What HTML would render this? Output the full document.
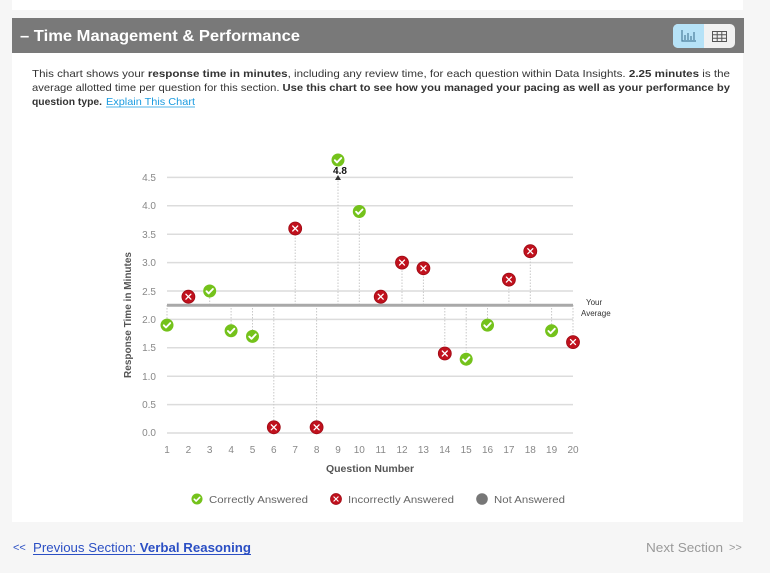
<!DOCTYPE html>
<html>
<head>
<meta charset="utf-8">
<style>
html,body{margin:0;padding:0;background:#f6f6f6;}
body{width:770px;height:573px;overflow:hidden;position:relative;font-family:"Liberation Sans",sans-serif;}
svg{position:absolute;left:0;top:0;}
</style>
</head>
<body>
<svg width="770" height="573" viewBox="0 0 770 573" xmlns="http://www.w3.org/2000/svg" font-family="Liberation Sans, sans-serif">
  <defs>
    <g id="ok">
      <circle r="6.5" fill="#74c21b"/>
      <path d="M-3.2,0.2 L-1,2.4 L3.2,-2" fill="none" stroke="#fff" stroke-width="1.9" stroke-linecap="round" stroke-linejoin="round"/>
    </g>
    <g id="bad">
      <circle r="6.5" fill="#c0111d" stroke="#9e0a14" stroke-width="0.8"/>
      <path d="M-2.5,-2.5 L2.5,2.5 M2.5,-2.5 L-2.5,2.5" stroke="#fff" stroke-width="1.3" stroke-linecap="round"/>
    </g>
  </defs>

  <rect x="12" y="0" width="731" height="10" fill="#fff"/>
  <rect x="12" y="53" width="731" height="469" fill="#fff"/>
  <rect x="12" y="18" width="732" height="35" fill="#797979"/>
  <text x="20" y="41" font-size="16" font-weight="bold" fill="#fff" textLength="280" lengthAdjust="spacingAndGlyphs">– Time Management &amp; Performance</text>

  <rect x="673" y="24" width="62" height="24" rx="5" fill="#f1f1f1"/>
  <path d="M678,24 H704 V48 H678 A5,5 0 0 1 673,43 V29 A5,5 0 0 1 678,24 Z" fill="#b6e2f7"/>
  <g stroke="#4d7f9c" stroke-width="1.2" fill="none">
    <path d="M682,30 V41 H696"/>
    <path d="M685,40 V35 M688,40 V33 M691,40 V36 M694,40 V32"/>
  </g>
  <g stroke="#555" stroke-width="1" fill="none">
    <rect x="712.5" y="31.5" width="14" height="10"/>
    <path d="M712.5,34.8 H726.5 M712.5,38.2 H726.5 M717.2,31.5 V41.5 M721.8,31.5 V41.5"/>
  </g>

  <g font-size="10.5" fill="#333">
    <text x="32" y="77" textLength="698" lengthAdjust="spacingAndGlyphs">This chart shows your <tspan font-weight="bold">response time in minutes</tspan>, including any review time, for each question within Data Insights. <tspan font-weight="bold">2.25 minutes</tspan> is the</text>
    <text x="32" y="91" textLength="698" lengthAdjust="spacingAndGlyphs">average allotted time per question for this section. <tspan font-weight="bold">Use this chart to see how you managed your pacing as well as your performance by</tspan></text>
    <text x="32" y="105" textLength="70" lengthAdjust="spacingAndGlyphs" font-weight="bold">question type.</text>
    <text x="106" y="105" textLength="89" lengthAdjust="spacingAndGlyphs" fill="#1a9be0">Explain This Chart</text>
  </g>
  <line x1="106" y1="107" x2="195" y2="107" stroke="#1a9be0" stroke-width="0.8"/>

  <g stroke="#dcdcdc" stroke-width="1.5">
    <line x1="167" y1="177.4" x2="573" y2="177.4"/>
    <line x1="167" y1="205.8" x2="573" y2="205.8"/>
    <line x1="167" y1="234.2" x2="573" y2="234.2"/>
    <line x1="167" y1="262.6" x2="573" y2="262.6"/>
    <line x1="167" y1="291" x2="573" y2="291"/>
    <line x1="167" y1="319.4" x2="573" y2="319.4"/>
    <line x1="167" y1="347.8" x2="573" y2="347.8"/>
    <line x1="167" y1="376.2" x2="573" y2="376.2"/>
    <line x1="167" y1="404.6" x2="573" y2="404.6"/>
    <line x1="167" y1="433" x2="573" y2="433"/>
  </g>

  <g font-size="10" fill="#888" text-anchor="end">
    <text x="156" y="181">4.5</text>
    <text x="156" y="209">4.0</text>
    <text x="156" y="238">3.5</text>
    <text x="156" y="266">3.0</text>
    <text x="156" y="295">2.5</text>
    <text x="156" y="323">2.0</text>
    <text x="156" y="351">1.5</text>
    <text x="156" y="380">1.0</text>
    <text x="156" y="408">0.5</text>
    <text x="156" y="436">0.0</text>
  </g>
  <text transform="translate(131,315) rotate(-90)" font-size="10" font-weight="bold" fill="#555" text-anchor="middle">Response Time in Minutes</text>

  <g font-size="10" fill="#888" text-anchor="middle">
    <text x="167" y="453">1</text><text x="188.4" y="453">2</text><text x="209.7" y="453">3</text><text x="231.1" y="453">4</text><text x="252.5" y="453">5</text>
    <text x="273.8" y="453">6</text><text x="295.2" y="453">7</text><text x="316.6" y="453">8</text><text x="338" y="453">9</text><text x="359.3" y="453">10</text>
    <text x="380.7" y="453">11</text><text x="402" y="453">12</text><text x="423.4" y="453">13</text><text x="444.8" y="453">14</text><text x="466.2" y="453">15</text>
    <text x="487.5" y="453">16</text><text x="508.9" y="453">17</text><text x="530.3" y="453">18</text><text x="551.6" y="453">19</text><text x="573" y="453">20</text>
  </g>
  <text x="370" y="472" font-size="10.5" font-weight="bold" fill="#555" text-anchor="middle">Question Number</text>

  <g stroke="#c8c8c8" stroke-width="1" stroke-dasharray="1.5 1.5">
    <line x1="167" y1="305" x2="167" y2="325"/>
    <line x1="188.4" y1="305" x2="188.4" y2="297"/>
    <line x1="209.7" y1="305" x2="209.7" y2="291"/>
    <line x1="231.1" y1="305" x2="231.1" y2="331"/>
    <line x1="252.5" y1="305" x2="252.5" y2="336"/>
    <line x1="273.8" y1="305" x2="273.8" y2="427"/>
    <line x1="295.2" y1="305" x2="295.2" y2="228"/>
    <line x1="316.6" y1="305" x2="316.6" y2="427"/>
    <line x1="338" y1="305" x2="338" y2="180"/>
    <line x1="359.3" y1="305" x2="359.3" y2="211"/>
    <line x1="380.7" y1="305" x2="380.7" y2="297"/>
    <line x1="402" y1="305" x2="402" y2="262"/>
    <line x1="423.4" y1="305" x2="423.4" y2="268"/>
    <line x1="444.8" y1="305" x2="444.8" y2="353"/>
    <line x1="466.2" y1="305" x2="466.2" y2="359"/>
    <line x1="487.5" y1="305" x2="487.5" y2="325"/>
    <line x1="508.9" y1="305" x2="508.9" y2="280"/>
    <line x1="530.3" y1="305" x2="530.3" y2="251"/>
    <line x1="551.6" y1="305" x2="551.6" y2="331"/>
    <line x1="573" y1="305" x2="573" y2="342"/>
  </g>

  <line x1="167" y1="305.2" x2="573" y2="305.2" stroke="#a9a9a9" stroke-width="3"/>
  <text x="586" y="305" font-size="8" fill="#333">Your</text>
  <text x="581" y="316" font-size="8" fill="#333">Average</text>

  <polygon points="335,180 341,180 338,175" fill="#333"/>
  <text x="340" y="174" font-size="10" font-weight="bold" fill="#111" text-anchor="middle">4.8</text>

  <use href="#ok" x="167" y="325.1"/>
  <use href="#bad" x="188.4" y="296.7"/>
  <use href="#ok" x="209.7" y="291"/>
  <use href="#ok" x="231.1" y="330.8"/>
  <use href="#ok" x="252.5" y="336.4"/>
  <use href="#bad" x="273.8" y="427.3"/>
  <use href="#bad" x="295.2" y="228.5"/>
  <use href="#bad" x="316.6" y="427.3"/>
  <use href="#ok" x="338" y="160"/>
  <use href="#ok" x="359.3" y="211.5"/>
  <use href="#bad" x="380.7" y="296.7"/>
  <use href="#bad" x="402" y="262.6"/>
  <use href="#bad" x="423.4" y="268.3"/>
  <use href="#bad" x="444.8" y="353.5"/>
  <use href="#ok" x="466.2" y="359.2"/>
  <use href="#ok" x="487.5" y="325.1"/>
  <use href="#bad" x="508.9" y="279.6"/>
  <use href="#bad" x="530.3" y="251.2"/>
  <use href="#ok" x="551.6" y="330.8"/>
  <use href="#bad" x="573" y="342.1"/>

  <use href="#ok" x="197" y="499" transform="translate(197,499) scale(0.85) translate(-197,-499)"/>
  <text x="209" y="503" font-size="10.5" fill="#666" textLength="99" lengthAdjust="spacingAndGlyphs">Correctly Answered</text>
  <use href="#bad" x="336" y="499" transform="translate(336,499) scale(0.85) translate(-336,-499)"/>
  <text x="348" y="503" font-size="10.5" fill="#666" textLength="106" lengthAdjust="spacingAndGlyphs">Incorrectly Answered</text>
  <circle cx="482" cy="499" r="5.8" fill="#777"/>
  <text x="494" y="503" font-size="10.5" fill="#666" textLength="71" lengthAdjust="spacingAndGlyphs">Not Answered</text>

  <text x="13" y="551" font-size="11" fill="#2b4fc4">&lt;&lt;</text>
  <text x="33" y="552" font-size="13" fill="#2b4fc4" textLength="218" lengthAdjust="spacingAndGlyphs">Previous Section: <tspan font-weight="bold">Verbal Reasoning</tspan></text>
  <line x1="33" y1="554.5" x2="251" y2="554.5" stroke="#2b4fc4" stroke-width="1"/>
  <text x="646" y="552" font-size="13" fill="#9a9a9a" textLength="77" lengthAdjust="spacingAndGlyphs">Next Section</text>
  <text x="729" y="551" font-size="11" fill="#9a9a9a">&gt;&gt;</text>
</svg>
</body>
</html>
